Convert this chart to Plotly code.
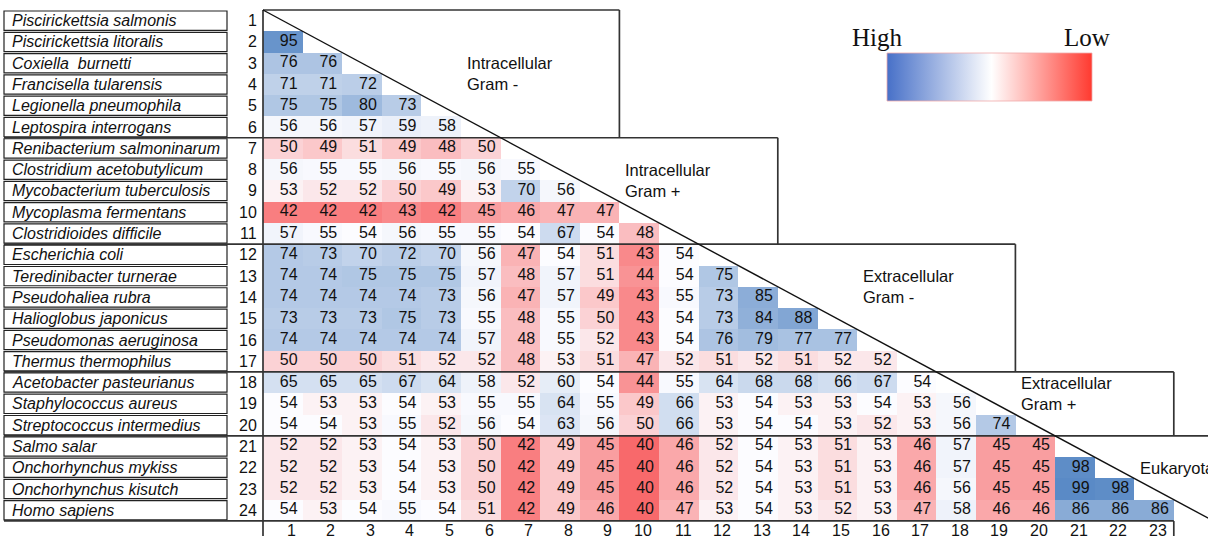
import numpy as np
import plotly.graph_objects as go

# ---------------- data ----------------
species = [
    "Piscirickettsia salmonis", "Piscirickettsia litoralis", "Coxiella\u00a0 burnetti",
    "Francisella tularensis", "Legionella pneumophila", "Leptospira interrogans",
    "Renibacterium salmoninarum", "Clostridium acetobutylicum", "Mycobacterium tuberculosis",
    "Mycoplasma fermentans", "Clostridioides difficile", "Escherichia coli",
    "Teredinibacter turnerae", "Pseudohaliea rubra", "Halioglobus japonicus",
    "Pseudomonas aeruginosa", "Thermus thermophilus", "Acetobacter pasteurianus",
    "Staphylococcus aureus", "Streptococcus intermedius", "Salmo salar",
    "Onchorhynchus mykiss", "Onchorhynchus kisutch", "Homo sapiens",
]
row_labels = ["1", "2", "3", "4", "5", "6", "7", "8", "9", "10", "11", "12",
              "13", "14", "15", "16", "17", "18", "19", "20", "21", "22", "23", "24"]
col_labels = ["1", "2", "3", "4", "5", "6", "7", "8", "9", "10", "11", "12",
              "13", "14", "15", "16", "17", "18", "19", "20", "21", "22", "23"]

intracellular_gram_neg = [
    [],
    [95],
    [76, 76],
    [71, 71, 72],
    [75, 75, 80, 73],
    [56, 56, 57, 59, 58],
]
intracellular_gram_pos = [
    [50, 49, 51, 49, 48, 50],
    [56, 55, 55, 56, 55, 56, 55],
    [53, 52, 52, 50, 49, 53, 70, 56],
    [42, 42, 42, 43, 42, 45, 46, 47, 47],
    [57, 55, 54, 56, 55, 55, 54, 67, 54, 48],
]
extracellular_gram_neg = [
    [74, 73, 70, 72, 70, 56, 47, 54, 51, 43, 54],
    [74, 74, 75, 75, 75, 57, 48, 57, 51, 44, 54, 75],
    [74, 74, 74, 74, 73, 56, 47, 57, 49, 43, 55, 73, 85],
    [73, 73, 73, 75, 73, 55, 48, 55, 50, 43, 54, 73, 84, 88],
    [74, 74, 74, 74, 74, 57, 48, 55, 52, 43, 54, 76, 79, 77, 77],
    [50, 50, 50, 51, 52, 52, 48, 53, 51, 47, 52, 51, 52, 51, 52, 52],
]
extracellular_gram_pos = [
    [65, 65, 65, 67, 64, 58, 52, 60, 54, 44, 55, 64, 68, 68, 66, 67, 54],
    [54, 53, 53, 54, 53, 55, 55, 64, 55, 49, 66, 53, 54, 53, 53, 54, 53, 56],
    [54, 54, 53, 55, 52, 56, 54, 63, 56, 50, 66, 53, 54, 54, 53, 52, 53, 56, 74],
]
eukaryota = [
    [52, 52, 53, 54, 53, 50, 42, 49, 45, 40, 46, 52, 54, 53, 51, 53, 46, 57, 45, 45],
    [52, 52, 53, 54, 53, 50, 42, 49, 45, 40, 46, 52, 54, 53, 51, 53, 46, 57, 45, 45, 98],
    [52, 52, 53, 54, 53, 50, 42, 49, 45, 40, 46, 52, 54, 53, 51, 53, 46, 56, 45, 45, 99, 98],
    [54, 53, 54, 55, 54, 51, 42, 49, 46, 40, 47, 53, 54, 53, 52, 53, 47, 58, 46, 46, 86, 86, 86],
]
group_names = ["Intracellular<br>Gram -", "Intracellular<br>Gram +",
               "Extracellular<br>Gram -", "Extracellular<br>Gram +", "Eukaryota"]
group_blocks = [intracellular_gram_neg, intracellular_gram_pos,
                extracellular_gram_neg, extracellular_gram_pos, eukaryota]

# ---------------- geometry (pixel -> data helpers) ----------------
W, H = 1208, 536
CW, RH = 39.6, 21.29       # cell width / height in px
X0, Y0 = 263, 10           # left / top edge of the matrix in px


def dx(p):
    return 0.5 + (p - X0) / CW


def dy(p):
    return 0.5 + (p - Y0) / RH


rows = [r for blk in group_blocks for r in blk]
ncols = len(col_labels)
z = [[(r[j] if j < len(r) else None) for j in range(ncols)] for r in rows]
allvals = np.array([v for r in rows for v in r], dtype=float)
zmin, zmax = allvals.min(), allvals.max()
zmid = np.percentile(allvals, 50)
m = (zmid - zmin) / (zmax - zmin)

fig = go.Figure()
fig.add_trace(go.Heatmap(
    z=z, x=list(range(1, ncols + 1)), y=list(range(1, len(rows) + 1)),
    zmin=zmin, zmax=zmax,
    colorscale=[[0, "#F8696B"], [m, "#FCFCFF"], [1, "#5A8AC6"]],
    showscale=False, hoverongaps=False, xgap=0, ygap=0,
))

# cell values, right aligned inside each cell
tx, ty, tt = [], [], []
for i, r in enumerate(rows):
    for j, v in enumerate(r):
        tx.append(j + 1 + 0.5 - 5 / CW)
        ty.append(i + 1)
        tt.append(str(v))
fig.add_trace(go.Scatter(
    x=tx, y=ty, text=tt, mode="text", textposition="middle left",
    textfont=dict(family="Liberation Sans", size=16, color="#111"),
    hoverinfo="skip",
))

# colour legend gradient box
lx0, lx1, ly0, ly1 = dx(887), dx(1092), dy(53), dy(101)
fig.add_trace(go.Scatter(
    x=[lx0, lx1, lx1, lx0, lx0], y=[ly0, ly0, ly1, ly1, ly0],
    mode="lines", fill="toself",
    fillgradient=dict(type="horizontal",
                      colorscale=[[0, "#4770C8"], [0.51, "#FFFFFF"], [1, "#FF3A30"]]),
    line=dict(color="rgba(240,170,170,0.8)", width=1),
    hoverinfo="skip",
))

shapes = []
line_dark = dict(color="#222", width=1.2)
line_grp = dict(color="#333", width=1.7)
ins = 1.0 / RH
# name boxes
for i in range(len(species)):
    shapes.append(dict(type="rect", x0=dx(4), x1=dx(227), y0=i + 0.5 + ins, y1=i + 1.5 - ins,
                       line=line_dark, fillcolor="rgba(0,0,0,0)"))
# left edge of matrix
shapes.append(dict(type="line", x0=0.5, x1=0.5, y0=0.5, y1=dy(H + 2), line=line_grp))
# group boxes
starts = [1]
for blk in group_blocks:
    starts.append(starts[-1] + len(blk))
box_right = [9.5, 13.5, 19.5, 23.5, dx(W + 5)]
label_x = [5.6, 9.6, 15.6, 19.6, 22.6]
label_y = [3.5, 8.5, 13.5, 18.5, 22.0]
for g in range(len(group_blocks)):
    top = starts[g] - 0.5
    bot = starts[g + 1] - 0.5
    x_left = 0.5 if g == 0 else dx(4)
    shapes.append(dict(type="line", x0=x_left, x1=box_right[g], y0=top, y1=top, line=line_grp))
    shapes.append(dict(type="line", x0=box_right[g], x1=box_right[g], y0=top, y1=bot, line=line_grp))
# bottom line and tick area
shapes.append(dict(type="line", x0=dx(4), x1=23.5, y0=24.5, y1=24.5, line=line_grp))
shapes.append(dict(type="line", x0=23.5, x1=23.5, y0=24.5, y1=dy(H + 2), line=line_grp))
# diagonal
shapes.append(dict(type="line", x0=0.5, y0=0.5, x1=24.5, y1=24.5, line=dict(color="#111", width=1.4)))

ann = []
for i, name in enumerate(species):
    ann.append(dict(x=dx(10), y=i + 1, text="<i>" + name + "</i>", xanchor="left", yanchor="middle",
                    showarrow=False, font=dict(family="Liberation Sans", size=16, color="#111")))
    ann.append(dict(x=dx(258.5), y=i + 1, text=row_labels[i], xanchor="right", yanchor="middle",
                    showarrow=False, font=dict(family="Liberation Sans", size=16, color="#111")))
for j, lab in enumerate(col_labels):
    ann.append(dict(x=j + 1 + 0.5 - 5 / CW, y=dy(530), text=lab, xanchor="right", yanchor="middle",
                    showarrow=False, font=dict(family="Liberation Sans", size=16, color="#111")))
for g, name in enumerate(group_names):
    ann.append(dict(x=label_x[g], y=label_y[g], text=name, xanchor="left", yanchor="middle",
                    align="left", showarrow=False,
                    font=dict(family="Liberation Sans", size=16.5, color="#111")))
ann.append(dict(x=dx(877), y=dy(37), text="High", xanchor="center", yanchor="middle", showarrow=False,
                font=dict(family="Liberation Serif", size=25, color="#111")))
ann.append(dict(x=dx(1087), y=dy(37), text="Low", xanchor="center", yanchor="middle", showarrow=False,
                font=dict(family="Liberation Serif", size=25, color="#111")))

fig.update_layout(
    width=W, height=H, margin=dict(l=0, r=0, t=0, b=0),
    paper_bgcolor="white", plot_bgcolor="white", showlegend=False,
    xaxis=dict(range=[dx(0), dx(W)], visible=False, fixedrange=True),
    yaxis=dict(range=[dy(H), dy(0)], visible=False, fixedrange=True),
    shapes=shapes, annotations=ann,
)
fig.write_html(
    "out.html",
    config={"displayModeBar": False},
    post_script="document.body.style.margin='0';document.body.style.overflow='hidden';",
)
